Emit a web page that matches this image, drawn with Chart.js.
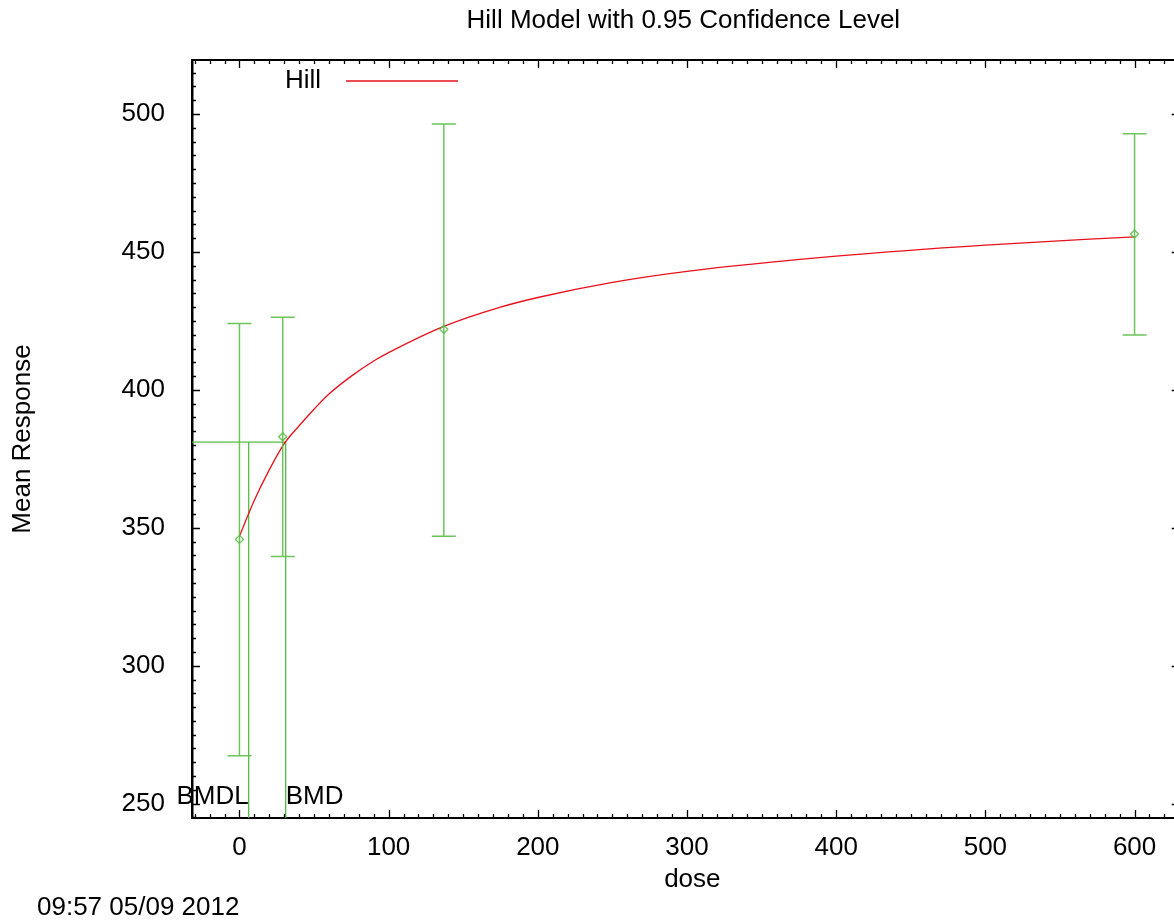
<!DOCTYPE html>
<html>
<head>
<meta charset="utf-8">
<script src="https://cdn.jsdelivr.net/npm/chart.js@4.4.0/dist/chart.umd.min.js"></script>
<style>
  html, body { margin: 0; padding: 0; background: #fff; overflow: hidden; }
  /* the plot runs off the right edge like the original export */
  #wrap { width: 1174px; height: 922px; overflow: hidden; }
</style>
</head>
<body>
<div id="wrap"><canvas id="hillChart" width="1180" height="922"></canvas></div>
<script>
  // observed group means with 95% limits
  const doses = [0, 29, 137, 600];
  const meanResp = [345.8, 383.0, 422.0, 456.5];
  const lowerCI = [267.4, 339.6, 346.9, 419.9];
  const upperCI = [424.1, 426.3, 496.4, 492.9];

  // Hill model curve
  const curveDose = [0, 10, 20, 30, 40, 50, 60, 75, 90, 100, 137, 175, 200, 250, 300, 400, 500, 600];
  const curveResp = [347, 360, 371, 380.5, 387, 393, 398.5, 405, 410.5, 413.5, 423, 430, 433.5, 439, 443, 448.5, 452.5, 455.5];

  // benchmark dose lines
  const bmrLevel = 381.1;
  const bmdlDose = 6.2;
  const bmdDose = 31.0;

  const xTickValues = [0, 100, 200, 300, 400, 500, 600];
  const yTickValues = [250, 300, 350, 400, 450, 500];

  const xRange = [-31.8, 626.9];
  const yRange = [244.8, 519.6];

  const fontFamily = "'Liberation Sans', Arial, Helvetica, sans-serif";
  const fontSize = 26;
  const errColor = 'rgba(92,190,72,0.9)';
  const bmdColor = '#55bb44';
  const curveColor = '#e8101a';

  // error bars, axis ticks, labels drawn gnuplot style
  const framePlugin = {
    id: 'gnuplotFrame',
    afterDatasetsDraw(chart) {
      const ctx = chart.ctx;
      const xs = chart.scales.x, ys = chart.scales.y;
      ctx.save();
      ctx.strokeStyle = errColor;
      ctx.lineWidth = 1.5;
      for (let i = 0; i < doses.length; i++) {
        const px = xs.getPixelForValue(doses[i]);
        const lo = ys.getPixelForValue(lowerCI[i]);
        const hi = ys.getPixelForValue(upperCI[i]);
        ctx.beginPath();
        ctx.moveTo(px, lo); ctx.lineTo(px, hi);
        ctx.moveTo(px - 12, lo); ctx.lineTo(px + 12, lo);
        ctx.moveTo(px - 12, hi); ctx.lineTo(px + 12, hi);
        ctx.stroke();
      }
      ctx.restore();
    },
    afterDraw(chart) {
      const ctx = chart.ctx;
      const area = chart.chartArea;
      const xs = chart.scales.x, ys = chart.scales.y;
      ctx.save();
      ctx.strokeStyle = '#000';

      // top border
      ctx.beginPath();
      ctx.lineWidth = 2;
      ctx.moveTo(area.left, area.top);
      ctx.lineTo(area.right, area.top);
      ctx.stroke();

      ctx.lineWidth = 1.3;
      ctx.beginPath();
      for (let v = Math.ceil(xRange[0] / 10) * 10; v <= xRange[1]; v += 10) {
        const px = Math.round(xs.getPixelForValue(v)) + 0.5;
        const len = v % 100 === 0 ? 8 : 4;
        ctx.moveTo(px, area.bottom); ctx.lineTo(px, area.bottom - len);
        ctx.moveTo(px, area.top); ctx.lineTo(px, area.top + len);
      }
      for (let v = Math.ceil(yRange[0] / 5) * 5; v <= yRange[1]; v += 5) {
        const py = Math.round(ys.getPixelForValue(v)) + 0.5;
        const len = v % 50 === 0 ? 8 : 4;
        ctx.moveTo(area.left, py); ctx.lineTo(area.left + len, py);
        if (v % 50 === 0) { ctx.moveTo(area.right - 3, py); ctx.lineTo(area.right, py); }
      }
      ctx.stroke();

      ctx.fillStyle = '#000';
      ctx.font = fontSize + 'px ' + fontFamily;
      ctx.textBaseline = 'middle';

      // title
      ctx.textAlign = 'center';
      ctx.fillText('Hill Model with 0.95 Confidence Level', (area.left + area.right) / 2, 21);
      // x title
      ctx.fillText('dose', (area.left + area.right) / 2 + 9, 880);
      // timestamp
      ctx.textAlign = 'left';
      ctx.fillText('09:57 05/09 2012', 37, 908);

      // y title
      ctx.save();
      ctx.translate(23, (area.top + area.bottom) / 2);
      ctx.rotate(-Math.PI / 2);
      ctx.textAlign = 'center';
      ctx.fillText('Mean Response', 0, 0);
      ctx.restore();

      // legend
      ctx.textAlign = 'right';
      ctx.fillText('Hill', 321, 81);
      ctx.strokeStyle = curveColor;
      ctx.lineWidth = 1.3;
      ctx.beginPath();
      ctx.moveTo(346, 81); ctx.lineTo(458, 81);
      ctx.stroke();

      // BMDL / BMD labels
      const textY = area.bottom - 21;
      ctx.textAlign = 'right';
      ctx.fillText('BMDL', xs.getPixelForValue(bmdlDose), textY);
      ctx.textAlign = 'left';
      ctx.fillText('BMD', xs.getPixelForValue(bmdDose), textY);
      ctx.restore();
    }
  };

  const ctx = document.getElementById('hillChart').getContext('2d');
  new Chart(ctx, {
    type: 'scatter',
    data: {
      datasets: [
        {
          label: 'Hill',
          data: curveDose.map((d, i) => ({ x: d, y: curveResp[i] })),
          showLine: true,
          borderColor: curveColor,
          borderWidth: 1.3,
          pointRadius: 0,
          cubicInterpolationMode: 'monotone',
          order: 2
        },
        {
          label: 'BMD',
          data: [
            { x: xRange[0], y: bmrLevel },
            { x: bmdDose, y: bmrLevel },
            { x: bmdDose, y: yRange[0] }
          ],
          showLine: true,
          borderColor: bmdColor,
          borderWidth: 1.3,
          pointRadius: 0,
          order: 3
        },
        {
          label: 'BMDL',
          data: [
            { x: bmdlDose, y: bmrLevel },
            { x: bmdlDose, y: yRange[0] }
          ],
          showLine: true,
          borderColor: bmdColor,
          borderWidth: 1.3,
          pointRadius: 0,
          order: 3
        },
        {
          label: 'Observed',
          data: doses.map((d, i) => ({ x: d, y: meanResp[i] })),
          pointStyle: 'rectRot',
          pointRadius: 4,
          borderWidth: 1.3,
          borderColor: errColor,
          backgroundColor: 'rgba(0,0,0,0)',
          order: 1
        }
      ]
    },
    options: {
      responsive: false,
      animation: false,
      layout: { padding: { top: 60, left: 0, right: 0, bottom: 0 } },
      plugins: {
        legend: { display: false },
        title: { display: false },
        tooltip: { enabled: false }
      },
      scales: {
        x: {
          type: 'linear',
          min: xRange[0],
          max: xRange[1],
          grid: { display: false, drawTicks: false },
          border: { display: true, color: '#000', width: 2 },
          ticks: {
            stepSize: 100,
            padding: 14,
            color: '#000',
            font: { family: fontFamily, size: fontSize }
          },
          afterBuildTicks(scale) {
            scale.ticks = xTickValues.map(v => ({ value: v }));
          },
          afterFit(scale) {
            scale.height = 104;
          }
        },
        y: {
          type: 'linear',
          min: yRange[0],
          max: yRange[1],
          grid: { display: false, drawTicks: false },
          border: { display: true, color: '#000', width: 2.5 },
          ticks: {
            stepSize: 50,
            padding: 27,
            color: '#000',
            font: { family: fontFamily, size: fontSize }
          },
          afterBuildTicks(scale) {
            scale.ticks = yTickValues.map(v => ({ value: v }));
          },
          afterFit(scale) {
            scale.width = 192;
            scale.paddingTop = 0;
            scale.paddingBottom = 0;
          }
        }
      }
    },
    plugins: [framePlugin]
  });
</script>
</body>
</html>
